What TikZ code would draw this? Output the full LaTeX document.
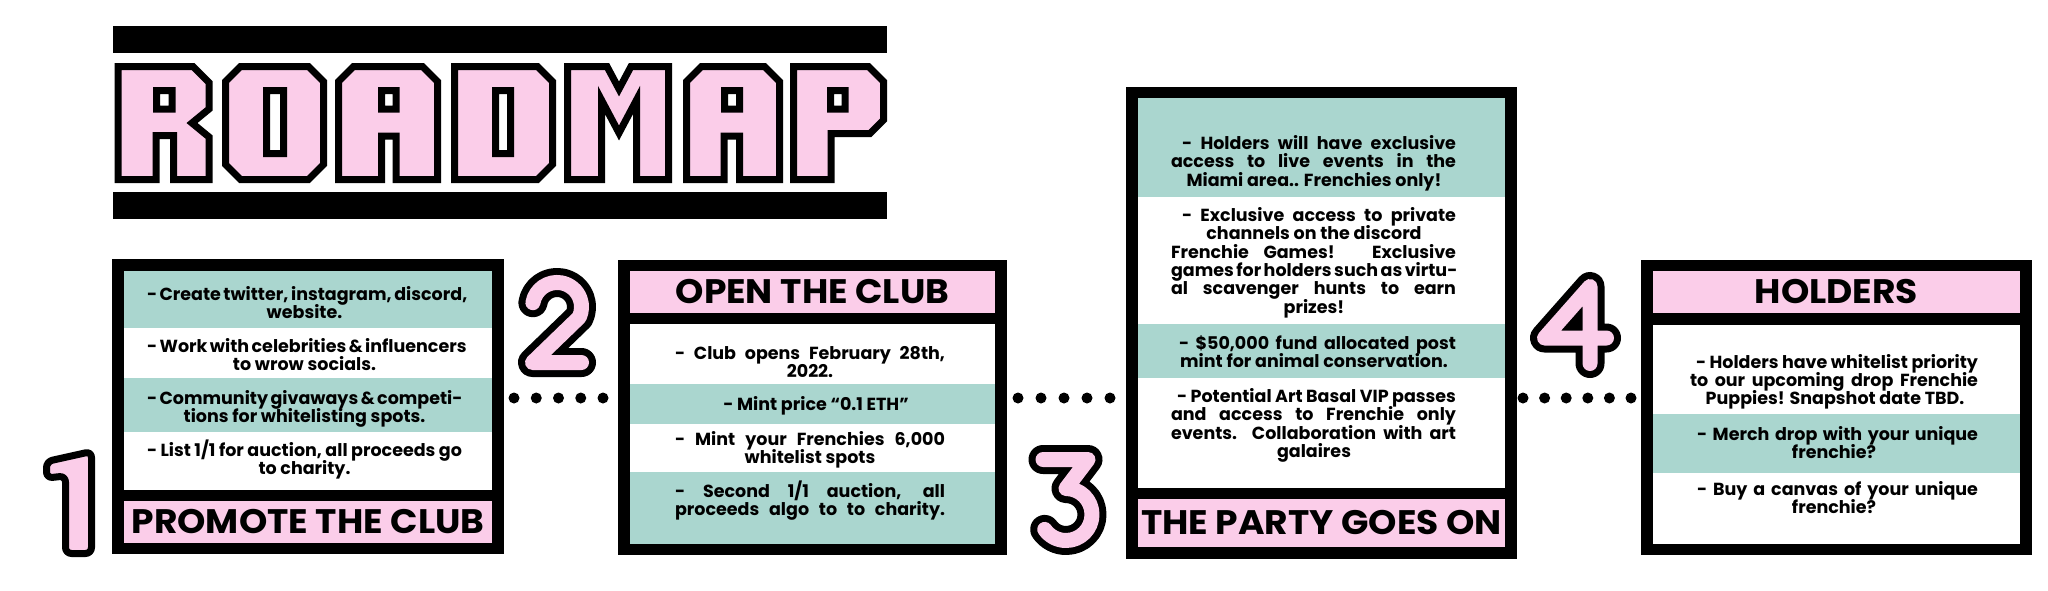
\documentclass[tikz,border=0pt]{standalone}
\usepackage{fontspec}
\newfontfamily\bodyfont{Poppins}
\newfontfamily\titlefont{Poppins}[FakeStretch=1.06]
\definecolor{rpink}{HTML}{FBCDE9}
\definecolor{rteal}{HTML}{AAD6CF}
\newcommand{\jtxt}[5]{\node[txt] (#1) at (#2,#3) {\makebox[#4pt][s]{#5}};}
\newcommand{\ctxt}[4]{\node[txt] (#1) at (#2,#3) {#4};}
\begin{document}
\begin{tikzpicture}[x=1pt,y=-1pt,
  letter/.style={fill=rpink, draw=black, line width=7pt, even odd rule, line join=miter},
  boxnode/.style={fill=black, inner sep=0pt, outer sep=0pt},
  titlebar/.style={fill=rpink, inner sep=0pt, outer sep=0pt, text=black, font=\titlefont\bfseries\fontsize{34}{34}\selectfont},
  txt/.style={inner sep=0pt, anchor=base, text=black, font=\bodyfont\bfseries\fontsize{17.5}{18}\selectfont},
  dotline/.style={line width=11pt, line cap=round, dash pattern=on 0pt off #1},
  digblack/.style={draw=black, line width=29pt, line cap=round, line join=round},
  digpink/.style={draw=rpink, line width=15pt, line cap=round, line join=round},
]
\useasboundingbox (0,0) rectangle (2048,590);
\fill[white] (0,0) rectangle (2048,590);

% ---------- title ----------
\fill[black] (113,26) rectangle (887,53);
\fill[black] (113,192) rectangle (887,219);
% R
\draw[letter] (118,66.5) -- (193,66.5) -- (209,82.5) -- (209,109) -- (192,123) -- (209,137) -- (209,179.5) -- (173.5,179.5) -- (173.5,135.5) -- (156,135.5) -- (156,179.5) -- (118,179.5) -- cycle
  (156.5,90.5) rectangle (172,109);
% O
\draw[letter] (240.5,66.5) -- (308.5,66.5) -- (323.5,81.5) -- (323.5,164.5) -- (308.5,179.5) -- (240.5,179.5) -- (225.5,164.5) -- (225.5,81.5) -- cycle
  (266.5,90.5) rectangle (283.5,153.5);
% A
\draw[letter] (353.5,66.5) -- (422.5,66.5) -- (437.5,81.5) -- (437.5,179.5) -- (396,179.5) -- (396,136) -- (381.5,136) -- (381.5,179.5) -- (338.5,179.5) -- (338.5,81.5) -- cycle
  (381.5,90.5) rectangle (396,109);
% D
\draw[letter] (454.5,66.5) -- (537.5,66.5) -- (552.5,81.5) -- (552.5,164.5) -- (537.5,179.5) -- (454.5,179.5) -- cycle
  (495.5,90.5) rectangle (510.5,153.5);
% M
\draw[letter] (567.5,66.5) -- (607,66.5) -- (619,89) -- (631,66.5) -- (668.5,66.5) -- (668.5,179.5) -- (636.5,179.5) -- (636.5,100) -- (619,133) -- (601.5,100) -- (601.5,179.5) -- (567.5,179.5) -- cycle;
% A
\draw[letter] (701.5,66.5) -- (764.5,66.5) -- (779.5,81.5) -- (779.5,179.5) -- (739.5,179.5) -- (739.5,136) -- (724,136) -- (724,179.5) -- (686.5,179.5) -- (686.5,81.5) -- cycle
  (724.5,90.5) rectangle (739.5,109);
% P
\draw[letter] (793.5,66.5) -- (868.5,66.5) -- (883.5,81.5) -- (883.5,120) -- (870,133.5) -- (831,133.5) -- (831,179.5) -- (793.5,179.5) -- cycle
  (830.5,90.5) rectangle (845,109);

% ---------- boxes ----------
\node[boxnode, minimum width=392pt, minimum height=295pt] (box1) at (308,406.5) {};
\node[boxnode, minimum width=389pt, minimum height=295pt] (box2) at (812.5,407.5) {};
\node[boxnode, minimum width=391pt, minimum height=472pt] (box3) at (1321.5,323) {};
\node[boxnode, minimum width=391pt, minimum height=295pt] (box4) at (1836.5,407.5) {};

% box 1 rows
\fill[rteal] (124,271) rectangle (492,328);
\fill[white] (124,328) rectangle (492,378);
\fill[rteal] (124,378) rectangle (492,432);
\fill[white] (124,432) rectangle (492,490);
\node[titlebar, minimum width=368pt, minimum height=42pt] (t1) at (308,522) {PROMOTE THE CLUB};
% box 2 rows
\node[titlebar, minimum width=365pt, minimum height=42pt] (t2) at (812.5,292) {OPEN THE CLUB};
\fill[white] (630,324) rectangle (995,384);
\fill[rteal] (630,384) rectangle (995,424);
\fill[white] (630,424) rectangle (995,472);
\fill[rteal] (630,472) rectangle (995,544);
% box 3 rows
\fill[rteal] (1138,98) rectangle (1505,197);
\fill[white] (1138,197) rectangle (1505,324);
\fill[rteal] (1138,324) rectangle (1505,378);
\fill[white] (1138,378) rectangle (1505,488);
\node[titlebar, minimum width=367pt, minimum height=48pt] (t3) at (1321.5,523) {THE PARTY GOES ON};
% box 4 rows
\node[titlebar, minimum width=367pt, minimum height=42pt] (t4) at (1836.5,292) {HOLDERS};
\fill[white] (1653,325) rectangle (2020,414);
\fill[rteal] (1653,414) rectangle (2020,473);
\fill[white] (1653,473) rectangle (2020,544);

% ---------- texts ----------
\jtxt{a1}{304.5}{300.5}{315}{- Create twitter, instagram, discord,}
\ctxt{a2}{304.5}{318.5}{website.}
\jtxt{a3}{304.5}{352.5}{315}{- Work with celebrities \& influencers}
\ctxt{a4}{304.5}{370.5}{to wrow socials.}
\jtxt{a5}{304.5}{404.5}{315}{- Community givaways \& competi-}
\ctxt{a6}{304.5}{422.5}{tions for whitelisting spots.}
\jtxt{a7}{304.5}{456.5}{315}{- List 1/1 for auction, all proceeds go}
\ctxt{a8}{304.5}{474.5}{to charity.}

\jtxt{b1}{810}{359}{270}{- Club opens February 28th,}
\ctxt{b2}{810}{377}{2022.}
\ctxt{b3}{816}{410.5}{- Mint price “0.1 ETH”}
\jtxt{b4}{810}{445}{270}{- Mint your Frenchies 6,000}
\ctxt{b5}{810}{463}{whitelist spots}
\jtxt{b6}{810}{497}{270}{- Second 1/1 auction, all}
\jtxt{b7}{810}{515}{270}{proceeds algo to to charity.}

\jtxt{c1}{1319}{149.5}{274}{- Holders will have exclusive}
\jtxt{c2}{1313.5}{167.8}{285}{access to live events in the}
\ctxt{c3}{1314}{186}{Miami area.. Frenchies only!}
\jtxt{c4}{1319}{221.5}{274}{- Exclusive access to private}
\ctxt{c5}{1314}{239.8}{channels on the discord}
\jtxt{c6}{1313.5}{258.1}{285}{Frenchie Games! Exclusive}
\jtxt{c7}{1313.5}{276.4}{285}{games for holders such as virtu-}
\jtxt{c8}{1313.5}{294.7}{285}{al scavenger hunts to earn}
\ctxt{c9}{1314}{313}{prizes!}
\jtxt{c10}{1317.5}{349.5}{277}{- \$50,000 fund allocated post}
\ctxt{c11}{1314}{367}{mint for animal conservation.}
\jtxt{c12}{1316.5}{402.5}{279}{- Potential Art Basal VIP passes}
\jtxt{c13}{1313.5}{420.8}{285}{and access to Frenchie only}
\jtxt{c14}{1313.5}{439.1}{285}{events. Collaboration with art}
\ctxt{c15}{1314}{457.4}{galaires}

\jtxt{d1}{1837}{368.5}{282}{- Holders have whitelist priority}
\jtxt{d2}{1834}{386.5}{288}{to our upcoming drop Frenchie}
\ctxt{d3}{1835}{404.5}{Puppies! Snapshot date TBD.}
\jtxt{d4}{1837.5}{440.5}{281}{- Merch drop with your unique}
\ctxt{d5}{1834}{458.5}{frenchie?}
\jtxt{d6}{1837.5}{495.5}{281}{- Buy a canvas of your unique}
\ctxt{d7}{1834}{513.5}{frenchie?}

% ---------- dotted connectors ----------
\coordinate (dl) at (0,398);
\draw[dotline=22.25pt, dash phase=12.25pt] (box1.east |- dl) -- (box2.west |- dl);
\draw[dotline=23pt, dash phase=12pt] (box2.east |- dl) -- (box3.west |- dl);
\draw[dotline=21.6pt, dash phase=15.6pt] (box3.east |- dl) -- (box4.west |- dl);

% ---------- digits ----------
\draw[fill=rpink, draw=black, line width=7pt, rounded corners=6pt, line join=round]
  (46.5,461.5) -- (91.5,451.5) -- (91.5,553.5) -- (65.5,553.5) -- (65.5,476) -- (46.5,478) -- cycle;
\foreach \s in {digblack,digpink}{
  \draw[\s] (532.9,302.7) arc[start angle=190, end angle=385, radius=24.5] -- (532.5,362.5) -- (581.5,362.5);
  \draw[\s] (1043,459.5) -- (1088,459.5) -- (1066,488.5) arc[start angle=270, end angle=505, radius=26];
  \draw[\s] (1590,363.5) -- (1590,286.5) -- (1544.5,338) -- (1606.5,338);
}
\end{tikzpicture}
\end{document}
